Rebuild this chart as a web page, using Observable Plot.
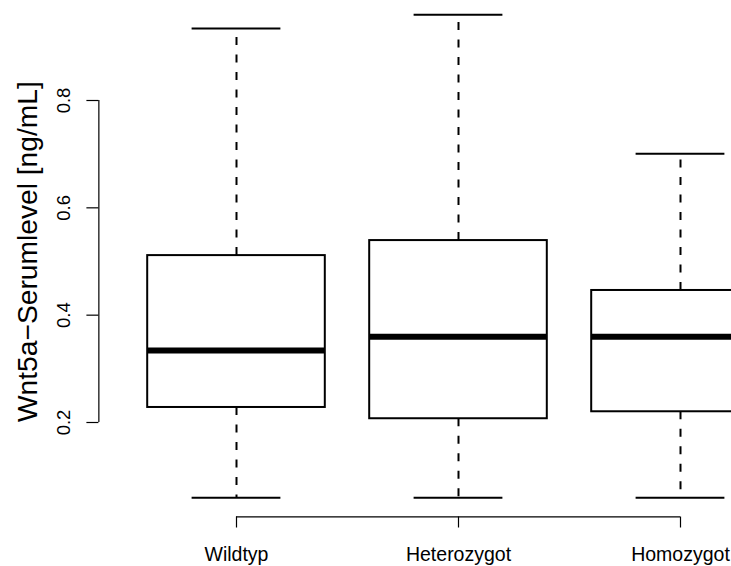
<!DOCTYPE html>
<html><head><meta charset="utf-8">
<script src="https://cdn.jsdelivr.net/npm/d3@7"></script>
<script src="https://cdn.jsdelivr.net/npm/@observablehq/plot@0.6"></script>
<style>html,body{margin:0;padding:0;background:#fff;} svg{display:block}</style>
</head><body><div id="chart"></div>
<script>
// Data
const groups = ["Wildtyp", "Heterozygot", "Homozygot"];
const lowerWhisker = [0.060, 0.060, 0.060];
const q1 = [0.228, 0.207, 0.220];
const median = [0.334, 0.360, 0.360];
const q3 = [0.511, 0.539, 0.446];
const upperWhisker = [0.934, 0.960, 0.701];
const yTicks = [0.2, 0.4, 0.6, 0.8];
const yLabel = "Wnt5a\u2212Serumlevel [ng/mL]";

const data = groups.map((g, i) => ({
  pos: i + 1, name: g,
  lo: lowerWhisker[i], q1: q1[i], med: median[i], q3: q3[i], hi: upperWhisker[i]
}));
const n = groups.length;
// R-style plot limits (4% expansion)
const xlim = [0.5 - 0.04 * n, n + 0.5 + 0.04 * n];
const yMin = d3.min(lowerWhisker), yMax = d3.max(upperWhisker);
const ylim = [yMin - 0.04 * (yMax - yMin), yMax + 0.04 * (yMax - yMin)];
const boxHalf = 0.4, capHalf = 0.2;

const chart = Plot.plot({
  width: 731, height: 566,
  marginLeft: 98.4, marginBottom: 49.5, marginTop: 0, marginRight: 0,
  x: {domain: [1, 3], range: [236, 680]},
  y: {domain: [0.2, 0.8], range: [422, 100]},
  style: {fontFamily: "'Liberation Sans', Arial, sans-serif", background: "white", color: "black"},
  marks: [
    Plot.ruleX(data, {x: "pos", y1: "q3", y2: "hi", strokeWidth: 2, strokeDasharray: "8,9.5"}),
    Plot.ruleX(data, {x: "pos", y1: "q1", y2: "lo", strokeWidth: 2, strokeDasharray: "8,9.5"}),
    Plot.ruleY(data, {y: "hi", x1: d => d.pos - capHalf, x2: d => d.pos + capHalf, strokeWidth: 2}),
    Plot.ruleY(data, {y: "lo", x1: d => d.pos - capHalf, x2: d => d.pos + capHalf, strokeWidth: 2}),
    Plot.rect(data, {x1: d => d.pos - boxHalf, x2: d => d.pos + boxHalf, y1: "q1", y2: "q3", fill: "none", stroke: "black", strokeWidth: 2}),
    Plot.ruleY(data, {y: "med", x1: d => d.pos - boxHalf, x2: d => d.pos + boxHalf, strokeWidth: 6}),
    Plot.ruleX([xlim[0]], {y1: yTicks[0], y2: yTicks[yTicks.length - 1], strokeWidth: 1.2}),
    Plot.ruleY([ylim[0]], {x1: 1, x2: n, strokeWidth: 1.2}),
    Plot.axisY({ticks: yTicks, tickSize: 12, tickRotate: -90, tickPadding: 17, fontSize: 18.5, label: null, tickFormat: d3.format(".1f"), strokeWidth: 1.2}),
    Plot.axisX({ticks: data.map(d => d.pos), tickFormat: i => groups[i - 1], tickSize: 11, tickPadding: 19, fontSize: 19.5, label: null, strokeWidth: 1.2}),
    Plot.text([yLabel], {x: xlim[0], y: (ylim[0] + ylim[1]) / 2, rotate: -90, dx: -71, dy: -4.5, fontSize: 28.2})
  ]
});
document.getElementById("chart").appendChild(chart);
</script>
</body></html>
